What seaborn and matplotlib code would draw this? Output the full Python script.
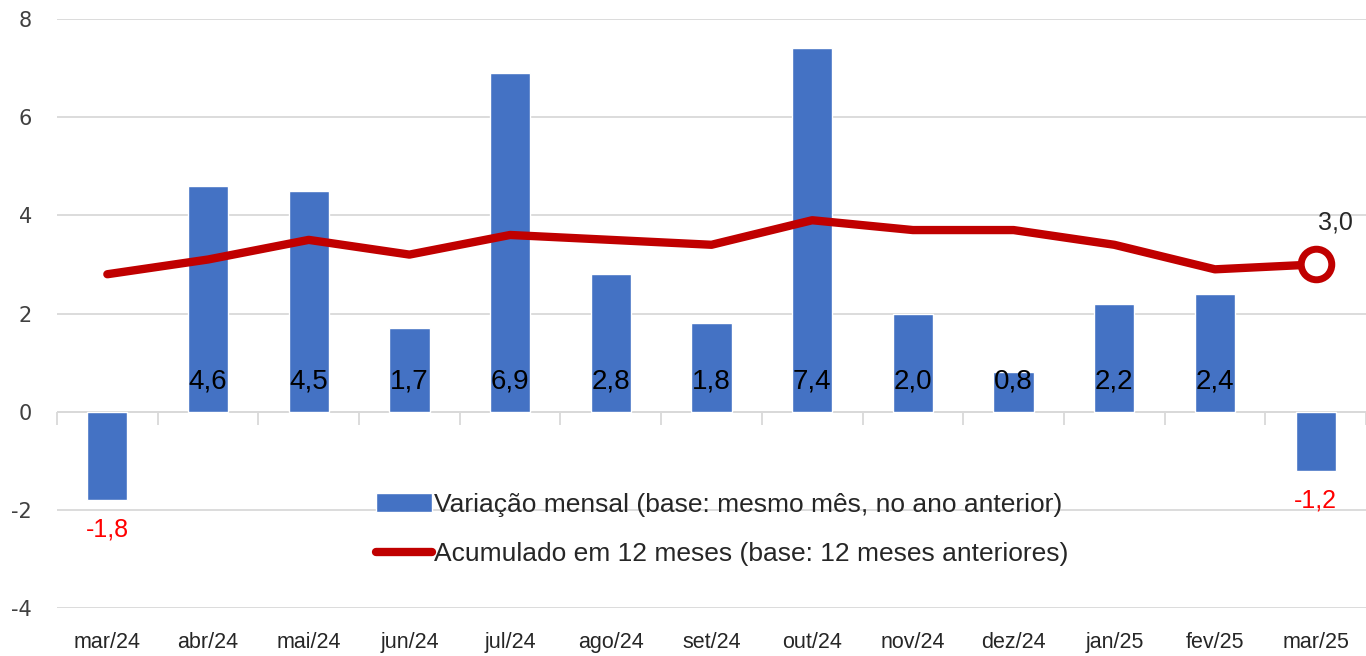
import matplotlib
matplotlib.use("Agg")
import matplotlib.pyplot as plt
import seaborn as sns
import pandas as pd

categories = ["mar/24", "abr/24", "mai/24", "jun/24", "jul/24", "ago/24", "set/24",
              "out/24", "nov/24", "dez/24", "jan/25", "fev/25", "mar/25"]
monthly = [-1.8, 4.6, 4.5, 1.7, 6.9, 2.8, 1.8, 7.4, 2.0, 0.8, 2.2, 2.4, -1.2]
accum12 = [2.8, 3.1, 3.5, 3.2, 3.6, 3.5, 3.4, 3.9, 3.7, 3.7, 3.4, 2.9, 3.0]
yticks = [-4, -2, 0, 2, 4, 6, 8]

sns.set_theme(style="white")
narrow = ["Liberation Sans Narrow", "Liberation Sans", "DejaVu Sans"]
plt.rcParams["font.family"] = narrow

df = pd.DataFrame({"mes": categories, "mensal": monthly, "acum": accum12})

fig = plt.figure(figsize=(13.66, 6.56), dpi=100)
ax = fig.add_axes([57 / 1366, 1 - 608 / 656, 1 - 57 / 1366, (608 - 19) / 656])

blue = "#4472C4"
red = "#C00000"

sns.barplot(data=df, x="mes", y="mensal", color=blue, width=0.4, saturation=1,
            ax=ax, label="Variação mensal (base: mesmo mês, no ano anterior)", zorder=2)
sns.lineplot(data=df, x="mes", y="acum", color=red, linewidth=6, sort=False,
             ax=ax, label="Acumulado em 12 meses (base: 12 meses anteriores)",
             zorder=3, solid_capstyle="round")
n = len(categories)
ax.plot([n - 1], [accum12[-1]], marker="o", markersize=22, markerfacecolor="white",
        markeredgecolor=red, markeredgewidth=5, zorder=4, linestyle="none")

ax.set_ylim(-4, 8)
ax.set_xlim(-0.5, n - 0.5)
ax.set_yticks(yticks)
ax.set_yticklabels([str(v) for v in yticks], family="DejaVu Sans", fontsize=15, color="#404040")
ax.yaxis.grid(True, color="#D9D9D9", linewidth=1.3, zorder=0)
ax.set_axisbelow(True)
ax.set_xlabel("")
ax.set_ylabel("")
for s in ax.spines.values():
    s.set_visible(False)
ax.tick_params(axis="x", length=0, labelsize=15.5, colors="#262626", pad=17)
ax.tick_params(axis="y", length=0, pad=18)
for lab in ax.get_xticklabels():
    lab.set_family(narrow)

# category axis crossing at zero with boundary ticks
ax.axhline(0, color="#D9D9D9", linewidth=1.3, zorder=1)
sec = ax.secondary_xaxis(4 / 12)
sec.set_xticks([i - 0.5 for i in range(n + 1)])
sec.set_xticklabels([])
sec.tick_params(axis="x", direction="out", length=9, color="#D9D9D9", width=1.3)
sec.spines["bottom"].set_visible(False)

# value labels
for i, v in enumerate(monthly):
    txt = f"{v:.1f}".replace(".", ",")
    if v >= 0:
        ax.text(i, 0.62, txt, ha="center", va="center", fontsize=20, color="black", zorder=5)
    else:
        ax.text(i, v - 0.6, txt, ha="center", va="center", fontsize=18, color="#FF0000", zorder=5)
ax.text(n - 1 + 0.2, accum12[-1] + 0.85, f"{accum12[-1]:.1f}".replace(".", ","),
        ha="center", va="center", fontsize=18, color="#262626")

handles, labels = ax.get_legend_handles_labels()
order = sorted(range(len(labels)), key=lambda k: 0 if labels[k].startswith("Varia") else 1)
leg = ax.legend([handles[k] for k in order], [labels[k] for k in order],
                loc="upper left", bbox_to_anchor=(0.258, 0.285), bbox_transform=fig.transFigure,
                frameon=False, fontsize=19, handlelength=2.1, handletextpad=0.1,
                labelspacing=0.95)
for t in leg.get_texts():
    t.set_color("#262626")

fig.savefig("out.png", dpi=100)
